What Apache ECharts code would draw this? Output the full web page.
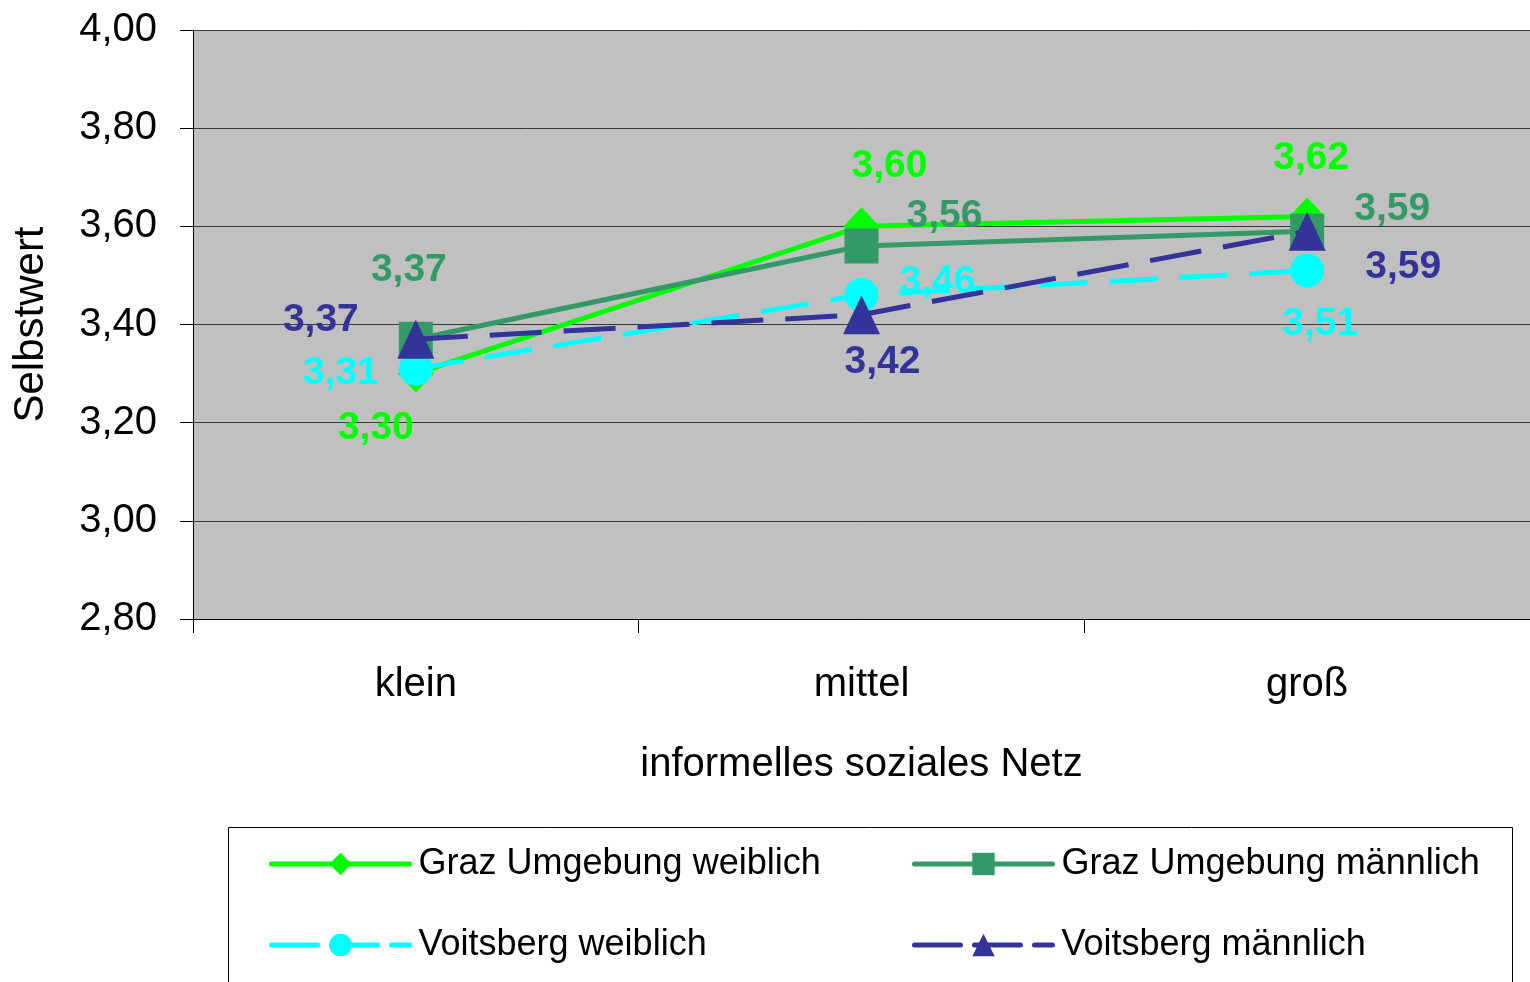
<!DOCTYPE html>
<html>
<head>
<meta charset="utf-8">
<script src="https://cdn.jsdelivr.net/npm/echarts@6/dist/echarts.min.js"></script>
<style>
html,body{margin:0;padding:0;background:#fff;}
#chart{width:1530px;height:982px;}
</style>
</head>
<body>
<div id="chart"></div>
<script>
// ---- data ----
var categories = ['klein', 'mittel', 'groß'];
var seriesNames = ['Graz Umgebung weiblich', 'Graz Umgebung männlich', 'Voitsberg weiblich', 'Voitsberg männlich'];
var grazWeiblich = [3.30, 3.60, 3.62];
var grazMaennlich = [3.37, 3.56, 3.59];
var voitsbergWeiblich = [3.31, 3.46, 3.51];
var voitsbergMaennlich = [3.37, 3.42, 3.59];
var yTickMin = 2.8, yTickMax = 4.0, yTickStep = 0.2;

// ---- styling (label offsets relative to each point) ----
var labelOffsets = [
  [[-40, 55], [28, -60], [4, -58]],
  [[-7, -69], [83, -30], [85, -22]],
  [[-75, 5], [76, -13], [13, 54]],
  [[-95, -19], [21, 48], [96, 36]]
];
var colors = ['#00FF00', '#339966', '#00FFFF', '#333399'];
var symbols = ['diamond', 'rect', 'circle', 'triangle'];
var symbolSizes = [[36, 38], [34, 35], [34, 34], [37, 39]];
var lineTypes = ['solid', 'solid', [48, 22], [52, 22]];
var legendLineTypes = ['solid', 'solid', [46, 14], [46, 14]];
var legendSymbolSizes = [[20, 26], [20, 21], [22, 24], [22, 24]];
var allValues = [grazWeiblich, grazMaennlich, voitsbergWeiblich, voitsbergMaennlich];

function fmt(v) { return v.toFixed(2).replace('.', ','); }

var series = allValues.map(function (vals, si) {
  return {
    name: seriesNames[si],
    type: 'line',
    data: vals.map(function (v, i) {
      return {
        value: v,
        label: { offset: labelOffsets[si][i] }
      };
    }),
    symbol: symbols[si],
    symbolSize: symbolSizes[si],
    itemStyle: { color: colors[si], opacity: 1 },
    lineStyle: { color: colors[si], width: 5, type: lineTypes[si], cap: 'butt' },
    label: {
      show: true,
      position: 'inside',
      color: colors[si],
      fontFamily: 'Liberation Sans, Arial, sans-serif',
      fontWeight: 'bold',
      fontSize: 39,
      formatter: function (p) { return fmt(p.value); }
    },
    emphasis: { disabled: true },
    animation: false,
    z: 2 + si
  };
});

var fontFam = 'Liberation Sans, Arial, sans-serif';
function legendItem(si) {
  return {
    name: seriesNames[si],
    lineStyle: { width: 5, type: legendLineTypes[si], color: colors[si], cap: 'round' },
    itemStyle: { color: colors[si] }
  };
}
function legendCfg(left, idxs) {
  return {
    orient: 'vertical', left: left, top: 841,
    data: idxs.map(legendItem),
    itemWidth: 138, itemHeight: 28, itemGap: 45,
    textStyle: { color: '#000', fontSize: 36, fontFamily: fontFam, padding: [0, 0, 0, 4] },
    selectedMode: false
  };
}

var chart = echarts.init(document.getElementById('chart'), null, { renderer: 'canvas' });
chart.setOption({
  backgroundColor: '#ffffff',
  animation: false,
  grid: {
    left: 193, right: 0, top: 30, bottom: 363,
    show: true, backgroundColor: '#C0C0C0', borderWidth: 0
  },
  xAxis: {
    type: 'category',
    data: categories,
    boundaryGap: true,
    axisLine: { lineStyle: { color: '#000', width: 1 } },
    axisTick: { show: true, length: 14, lineStyle: { color: '#000' } },
    axisLabel: { color: '#000', fontSize: 40, fontFamily: fontFam, margin: 46 },
    name: 'informelles soziales Netz',
    nameLocation: 'middle',
    nameGap: 126,
    nameTextStyle: { color: '#000', fontSize: 40, fontFamily: fontFam }
  },
  yAxis: {
    type: 'value',
    min: yTickMin, max: yTickMax, interval: yTickStep,
    axisLine: { show: true, lineStyle: { color: '#000', width: 1 } },
    axisTick: { show: true, length: 13, lineStyle: { color: '#000' } },
    axisLabel: { color: '#000', fontSize: 40, fontFamily: fontFam, margin: 36,
      formatter: function (v) { return fmt(v); } },
    splitLine: { show: true, lineStyle: { color: '#3a3a3a', width: 1 } },
    name: 'Selbstwert',
    nameLocation: 'middle',
    nameGap: 141,
    nameTextStyle: { color: '#000', fontSize: 42, fontFamily: fontFam }
  },
  legend: [legendCfg(264, [0, 2]), legendCfg(907, [1, 3])],
  graphic: [
    {
      type: 'rect',
      shape: { x: 228.5, y: 827.5, width: 1284, height: 200 },
      style: { fill: 'none', stroke: '#000', lineWidth: 1 },
      z: -1
    }
  ],
  series: series
});
</script>
</body>
</html>
